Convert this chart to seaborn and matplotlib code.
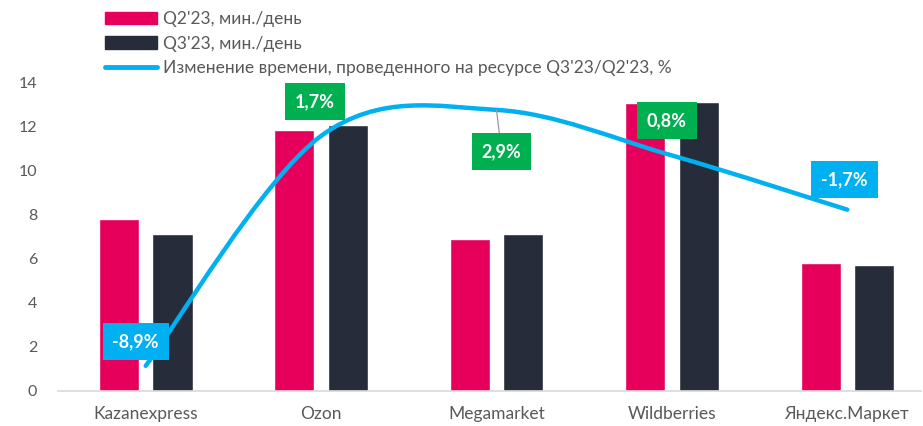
import numpy as np
import pandas as pd
import matplotlib
matplotlib.use("Agg")
import matplotlib.pyplot as plt
import seaborn as sns
from matplotlib.path import Path
from matplotlib.patches import PathPatch, Patch
from matplotlib.lines import Line2D

sites = ["Kazanexpress", "Ozon", "Megamarket", "Wildberries", "Яндекс.Маркет"]
q2 = [7.8, 11.85, 6.9, 13.1, 5.8]
q3 = [7.15, 12.1, 7.15, 13.15, 5.75]
change = [-8.9, 1.7, 2.9, 0.8, -1.7]
change_labels = ["-8,9%", "1,7%", "2,9%", "0,8%", "-1,7%"]
series_names = ["Q2'23, мин./день", "Q3'23, мин./день"]
line_name = "Изменение времени, проведенного на ресурсе Q3'23/Q2'23, %"

PINK = "#E6005C"
NAVY = "#262C3A"
BLUE = "#00B0F0"
GREEN = "#00AF50"
GREY = "#595959"

sns.set_style("white")
plt.rcParams["font.family"] = ["Lato", "DejaVu Sans"]

df = pd.DataFrame({
    "site": sites * 2,
    "value": q2 + q3,
    "period": [series_names[0]] * 5 + [series_names[1]] * 5,
})

fig = plt.figure(figsize=(9.23, 4.26), dpi=100)
ax = fig.add_axes([58 / 923, 1 - 391 / 426, (921 - 58) / 923, (391 - 83) / 426])

sns.barplot(data=df, x="site", y="value", hue="period", order=sites,
            hue_order=series_names, palette=[PINK, NAVY], saturation=1,
            width=0.61, gap=0.25, legend=False, ax=ax)
ax.set_xlim(-0.5, 4.42)
ax.set_ylim(0, 14)
ax.set_yticks(range(0, 15, 2))
ax.set_xlabel("")
ax.set_ylabel("")
for s in ["top", "right", "left"]:
    ax.spines[s].set_visible(False)
ax.spines["bottom"].set_color("#D9D9D9")
ax.spines["bottom"].set_linewidth(1.2)
ax.tick_params(axis="y", length=0, pad=15, labelsize=11.5, labelcolor=GREY)
ax.tick_params(axis="x", length=0, pad=11, labelsize=12.5, labelcolor=GREY)

# secondary axis for the % change line
ax2 = ax.twinx()
ax2.set_ylim(-10.06, 4.14)
ax2.set_axis_off()

# smoothed line (Catmull-Rom style bezier, like Excel smoothing)
xs = np.arange(len(change), dtype=float)
ys = np.array(change, dtype=float)
pts = np.column_stack([xs, ys])
verts = [pts[0]]
codes = [Path.MOVETO]
n = len(pts)
for i in range(n - 1):
    p0 = pts[max(i - 1, 0)]
    p1 = pts[i]
    p2 = pts[i + 1]
    p3 = pts[min(i + 2, n - 1)]
    c1 = p1 + (p2 - p0) / 6
    c2 = p2 - (p3 - p1) / 6
    verts += [c1, c2, p2]
    codes += [Path.CURVE4] * 3
ax2.add_patch(PathPatch(Path(verts, codes), fill=False, edgecolor=BLUE,
                        lw=3.2, capstyle="round", zorder=3))

offsets = [(-10, 24), (-6, 34), (5, -42), (-5, 35), (-3, 30)]
for i, (v, lab) in enumerate(zip(change, change_labels)):
    col = GREEN if v > 0 else BLUE
    arrow = dict(arrowstyle="-", color="#999999", lw=0.9, shrinkA=0, shrinkB=0) if i == 2 else None
    ax2.annotate(lab, (i, v), xytext=offsets[i], textcoords="offset pixels",
                 ha="center", va="center", color="white", fontsize=13,
                 fontweight="bold", arrowprops=arrow, zorder=5,
                 bbox=dict(boxstyle="square,pad=0.55", fc=col, ec="none"))

handles = [Patch(color=PINK), Patch(color=NAVY), Line2D([], [], color=BLUE, lw=3.5, solid_capstyle="round")]
fig.legend(handles, series_names + [line_name], loc="upper left",
           bbox_to_anchor=(94 / 923, 1.0), frameon=False, fontsize=12.5,
           labelcolor=GREY, handlelength=3.0, handletextpad=0.35,
           labelspacing=0.48, borderpad=0.15)

fig.savefig("out.png", dpi=100)
